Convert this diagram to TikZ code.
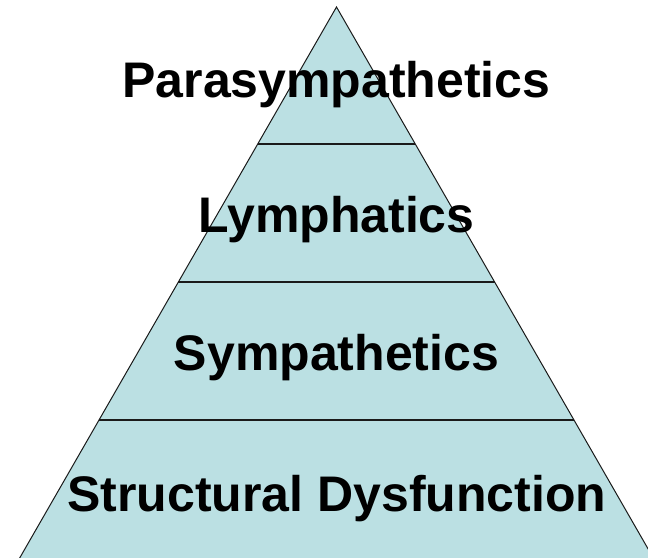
\documentclass[tikz,border=0pt]{standalone}
\usepackage{fontspec}
\setmainfont{Liberation Sans}
\definecolor{pyrfill}{HTML}{BBE0E3}
\definecolor{pyrline}{HTML}{1A1A1A}
\begin{document}
\begin{tikzpicture}[x=1pt,y=-1pt,
  label/.style={font=\bfseries\fontsize{50}{56}\selectfont, anchor=base, inner sep=0pt, text=black},
  divider/.style={draw=pyrline, line width=2pt},
  edge/.style={draw=pyrline, line width=1pt}]
\useasboundingbox (0,0) rectangle (648,557);
\coordinate (apex) at (336.5,7);
\coordinate (bl) at (336.5-0.575*555,562);
\coordinate (br) at (336.5+0.575*555,562);
\fill[pyrfill] (apex) -- (bl) -- (br) -- cycle;
\foreach \yy in {144,282,420}{
  \draw[divider] ({336.5-0.575*(\yy-7)},\yy) -- ({336.5+0.575*(\yy-7)},\yy);
}
\draw[edge] (bl) -- (apex) -- (br);
\node[label] (para) at (336.5,97) {Parasympathetics};
\node[label] (lymph) at (336.5,232) {Lymphatics};
\node[label] (symp) at (336.5,370) {Sympathetics};
\node[label] (struct) at (337,511) {Structural Dysfunction};
\end{tikzpicture}
\end{document}
